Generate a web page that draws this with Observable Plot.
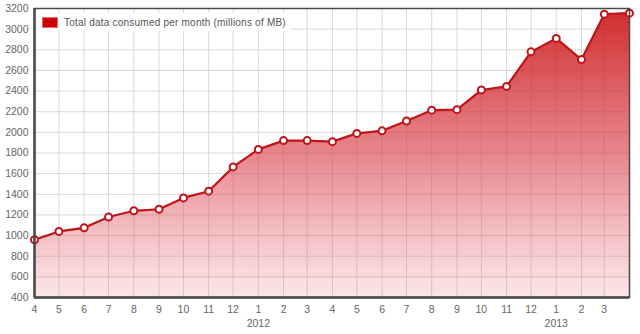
<!DOCTYPE html>
<html>
<head>
<meta charset="utf-8">
<script src="https://cdn.jsdelivr.net/npm/d3@7"></script>
<script src="https://cdn.jsdelivr.net/npm/@observablehq/plot@0.6"></script>
<style>
  html, body { margin: 0; padding: 0; background: #fff; }
  #wrap { position: relative; width: 640px; height: 334px; font-family: "Liberation Sans", Arial, sans-serif; }
  #legend { position: absolute; left: 38px; top: 13px; width: 252px; height: 18px; background: #fff;
            display: flex; align-items: center; font-size: 10px; letter-spacing: 0.22px; color: #555; white-space: nowrap; }
  #legend .sw { width: 14px; height: 9px; background: #cc0000; border: 1px solid #e87070; margin: 0 6px 0 4px; flex: none; }
</style>
</head>
<body>
<div id="wrap"><div id="legend"><span class="sw"></span><span>Total data consumed per month (millions of MB)</span></div></div>
<script>
const months = ["2011-04","2011-05","2011-06","2011-07","2011-08","2011-09","2011-10","2011-11","2011-12",
  "2012-01","2012-02","2012-03","2012-04","2012-05","2012-06","2012-07","2012-08","2012-09","2012-10","2012-11","2012-12",
  "2013-01","2013-02","2013-03","2013-04"];
const values = [960,1040,1075,1180,1240,1255,1365,1430,1665,1835,1920,1920,1910,1990,2015,2110,2215,2220,2410,2445,2780,2910,2705,3145,3155];
const yTicks = [400,600,800,1000,1200,1400,1600,1800,2000,2200,2400,2600,2800,3000,3200];
const yearTicks = ["2012-01","2013-01"];

const parse = d3.utcParse("%Y-%m");
const data = months.map((m, i) => ({date: parse(m), value: values[i]}));
const monthTicks = data.slice(0, 24).map(d => d.date);
const yearDates = yearTicks.map(parse);

const W = 640, H = 334, mt = 8, mb = 37, ml = 34, mr = 11;

const chart = Plot.plot({
  width: W, height: H,
  marginTop: mt, marginBottom: mb, marginLeft: ml, marginRight: mr,
  style: {fontFamily: '"Liberation Sans", Arial, sans-serif', fontSize: "10.5px", color: "#666", background: "transparent"},
  x: {type: "utc", domain: [data[0].date, data[data.length - 1].date]},
  y: {domain: [400, 3200]},
  marks: [
    Plot.gridX(monthTicks, {stroke: "#d8d8d8", strokeOpacity: 1}),
    Plot.gridY(yTicks, {stroke: "#d8d8d8", strokeOpacity: 1}),
    Plot.areaY(data, {x: "date", y1: 400, y2: "value", fill: "url(#areaGrad)"}),
    Plot.line(data, {x: "date", y: "value", stroke: "#c0141b", strokeWidth: 2.2}),
    Plot.dot(data, {x: "date", y: "value", r: 3.5, fill: "#fff", stroke: "#c0141b", strokeWidth: 2}),
    Plot.frame({stroke: "#4a4a4a", strokeWidth: 1.5}),
    Plot.ruleX([data[0].date], {stroke: "#4a4a4a", strokeWidth: 2.5}),
    Plot.ruleY([400], {stroke: "#4a4a4a", strokeWidth: 2.5}),
    Plot.axisY(yTicks, {tickSize: 0, tickPadding: 6, label: null, fill: "#666", tickFormat: d3.format("d")}),
    Plot.axisX(monthTicks, {tickSize: 0, tickPadding: 8, label: null, fill: "#666", tickFormat: d3.utcFormat("%-m")}),
    Plot.axisX(yearDates, {tickSize: 0, tickPadding: 22, label: null, fill: "#666", tickFormat: d3.utcFormat("%Y")})
  ]
});

const ns = "http://www.w3.org/2000/svg";
const defs = document.createElementNS(ns, "defs");
const grad = document.createElementNS(ns, "linearGradient");
grad.setAttribute("id", "areaGrad");
grad.setAttribute("gradientUnits", "userSpaceOnUse");
grad.setAttribute("x1", 0); grad.setAttribute("x2", 0);
grad.setAttribute("y1", mt); grad.setAttribute("y2", H - mb);
[[0, "#cc1414", 0.9], [0.5, "#d63a44", 0.62], [1, "#e8606c", 0.16]].forEach(([o, c, a]) => {
  const s = document.createElementNS(ns, "stop");
  s.setAttribute("offset", o); s.setAttribute("stop-color", c); s.setAttribute("stop-opacity", a);
  grad.appendChild(s);
});
defs.appendChild(grad);
chart.insertBefore(defs, chart.firstChild);

const wrap = document.getElementById("wrap");
wrap.insertBefore(chart, wrap.firstChild);
</script>
</body>
</html>
